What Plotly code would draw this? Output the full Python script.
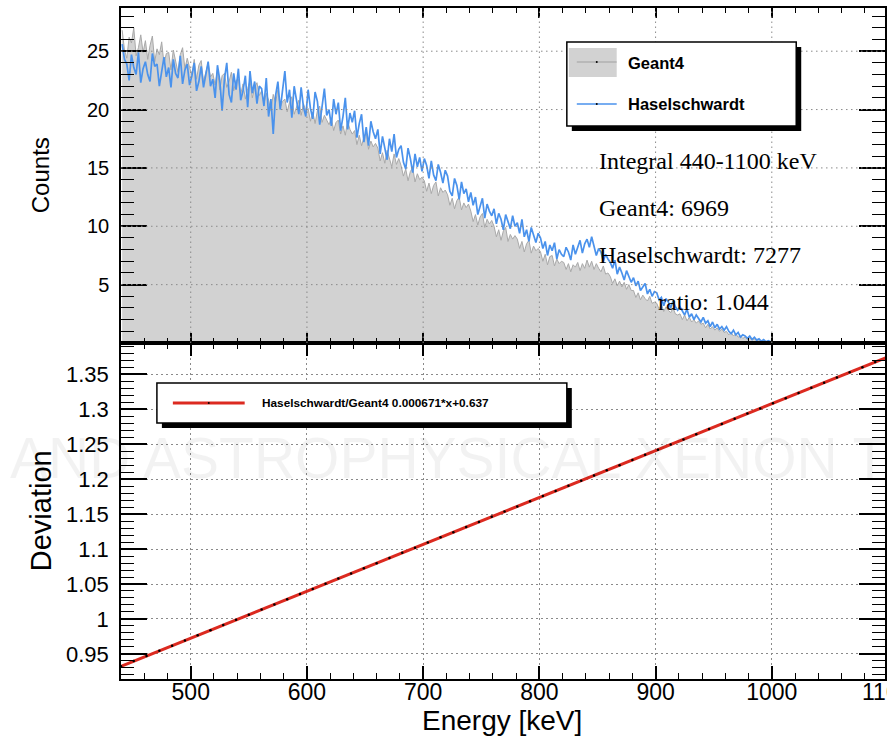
import plotly.graph_objects as go

# ---------------------------------------------------------------- data
# 2 keV bins, left edges from 440 keV up to 1098 keV
bin_width = 2
bin_edges = list(range(440, 1100, bin_width))

geant4_counts = [
    26.8, 25.1, 24.4, 26.2, 25.7, 27.0, 24.6, 25.3, 26.4, 24.9,
    25.9, 24.3, 25.5, 26.3, 24.1, 25.2, 24.7, 25.8, 23.9, 24.8,
    24.9, 23.4, 25.1, 24.0, 23.2, 24.7, 25.3, 23.5, 24.4, 23.6,
    23.0, 24.3, 22.6, 23.8, 24.2, 22.4, 23.3, 24.0, 22.8, 23.1,
    22.1, 23.4, 21.7, 22.9, 23.1, 21.9, 22.4, 23.2, 21.6, 22.5,
    22.6, 21.3, 22.2, 20.9, 21.8, 22.5, 21.0, 21.9, 22.3, 21.2,
    21.6, 20.5, 21.4, 20.8, 19.9, 21.3, 20.6, 21.7, 20.2, 20.7,
    20.9, 19.8, 20.6, 21.1, 19.6, 20.3, 20.8, 19.5, 20.5, 19.9,
    20.1, 19.0, 19.8, 18.8, 19.9, 20.3, 18.9, 19.5, 19.1, 18.7,
    19.3, 18.2, 18.9, 19.1, 17.9, 18.6, 17.8, 19.0, 18.3, 17.9,
    18.2, 17.0, 17.8, 16.9, 17.6, 18.0, 16.6, 17.3, 16.8, 17.1,
    16.7, 15.6, 16.3, 15.4, 16.5, 15.7, 15.1, 16.2, 15.3, 15.8,
    15.2, 14.3, 14.9, 13.9, 14.7, 15.0, 13.8, 14.5, 14.0, 14.2,
    13.9, 13.0, 13.7, 12.8, 13.5, 13.8, 12.6, 13.3, 12.9, 13.1,
    12.7, 11.8, 12.4, 11.5, 12.2, 12.5, 11.4, 12.0, 11.6, 11.9,
    11.3, 10.4, 11.0, 10.1, 10.8, 11.1, 9.9, 10.6, 10.2, 10.5,
    10.0, 9.1, 9.7, 8.8, 9.6, 9.9, 8.7, 9.3, 8.9, 9.2,
    8.9, 8.1, 8.7, 7.8, 8.5, 8.8, 7.7, 8.3, 7.9, 8.1,
    7.8, 7.0, 7.6, 6.7, 7.4, 7.5, 6.6, 7.2, 6.8, 7.0,
    6.9, 6.3, 6.8, 6.1, 6.7, 6.5, 6.9, 6.2, 6.8, 6.4,
    7.1, 6.5, 7.0, 6.3, 6.8, 6.4, 6.1, 6.6, 5.9, 6.0,
    5.7, 5.1, 5.5, 4.9, 5.3, 4.8, 5.2, 4.6, 5.0, 4.5,
    4.5, 3.9, 4.3, 3.7, 4.1, 3.8, 3.6, 4.0, 3.4, 3.5,
    3.4, 2.9, 3.3, 2.7, 3.1, 2.8, 2.6, 3.0, 2.5, 2.4,
    2.5, 2.0, 2.4, 1.9, 2.2, 1.8, 2.0, 1.7, 1.9, 1.6,
    1.7, 1.3, 1.6, 1.2, 1.4, 1.1, 1.3, 1.0, 1.2, 0.9,
    1.0, 0.7, 0.9, 0.6, 0.8, 0.5, 0.6, 0.4, 0.5, 0.3,
    0.45, 0.25, 0.35, 0.2, 0.3, 0.15, 0.2, 0.1, 0.1, 0.05,
    0.05, 0.0, 0.0, 0.0, 0.0, 0.0, 0.0, 0.0, 0.0, 0.0,
    0.0, 0.0, 0.0, 0.0, 0.0, 0.0, 0.0, 0.0, 0.0, 0.0,
    0.0, 0.0, 0.0, 0.0, 0.0, 0.0, 0.0, 0.0, 0.0, 0.0,
    0.0, 0.0, 0.0, 0.0, 0.0, 0.0, 0.0, 0.0, 0.0, 0.0,
    0.0, 0.0, 0.0, 0.0, 0.0, 0.0, 0.0, 0.0, 0.0, 0.0,
]

haselschwardt_counts = [
    25.6, 24.3, 23.9, 22.5, 24.7, 23.6, 23.0, 24.9, 22.3, 23.5,
    24.1, 23.0, 22.4, 24.8, 23.7, 23.9, 22.0, 23.3, 24.5, 22.8,
    23.6, 21.9, 24.3, 23.1, 22.7, 24.6, 22.2, 23.4, 23.9, 22.1,
    22.9, 24.0, 21.6, 22.4, 23.7, 21.9, 23.2, 24.1, 22.0, 22.6,
    21.0, 23.8, 22.5, 19.9, 22.6, 24.0, 21.3, 20.6, 23.1, 21.7,
    23.5, 20.8, 21.6, 22.9, 20.2, 23.3, 21.4, 22.4, 20.5, 22.0,
    21.8, 20.3, 22.7, 19.4, 20.9, 17.9, 21.2, 22.4, 20.0, 21.5,
    23.3, 20.6, 21.7, 19.3, 22.0, 20.8, 19.6, 21.9, 20.2, 19.4,
    21.7, 20.1, 19.2, 21.5, 20.7, 18.7, 20.3, 21.8, 19.5, 20.0,
    18.6, 20.9, 19.6, 20.6, 18.2, 19.4, 21.0, 18.3, 19.7, 18.9,
    19.9, 17.6, 18.8, 19.6, 17.2, 18.5, 16.9, 19.0, 18.1, 17.5,
    18.3, 16.2, 17.7, 16.8, 15.7, 17.5, 16.4, 17.9, 15.9, 16.6,
    16.9, 15.5, 14.9, 16.7, 15.8, 14.6, 16.2, 15.1, 15.9, 14.7,
    15.8, 15.2, 14.1, 15.6, 14.4, 13.9, 15.3, 14.6, 13.7, 14.8,
    14.3, 13.0, 12.6, 14.1, 13.5, 12.3, 13.8, 12.8, 13.2, 12.1,
    12.9, 11.8, 12.5, 11.0, 11.6, 12.4, 10.7, 11.9, 11.3, 10.9,
    11.5, 10.2, 11.1, 10.6, 9.7, 11.0, 10.4, 9.8, 10.9, 10.0,
    10.3, 9.4, 10.6, 9.1, 9.7, 8.7, 9.9, 9.2, 8.6, 9.4,
    9.0, 8.1, 8.7, 7.5, 8.4, 7.9, 8.6, 7.2, 8.0, 7.6,
    7.4, 8.2, 7.8, 7.1, 8.4, 7.6, 8.3, 8.8, 7.7, 8.5,
    8.9, 8.2, 9.1, 8.4, 7.5, 8.1, 7.8, 7.0, 7.6, 7.2,
    6.9, 6.4, 7.1, 5.9, 6.5, 6.0, 5.4, 6.2, 5.7, 5.2,
    5.6, 4.9, 5.3, 4.5, 4.8, 5.1, 4.2, 4.6, 4.0, 4.4,
    4.3, 3.7, 3.9, 3.2, 3.8, 3.5, 3.0, 3.6, 3.1, 2.8,
    3.1, 2.7, 2.4, 2.9, 2.2, 2.5, 2.0, 2.4, 2.1, 1.8,
    2.2, 1.7, 1.9, 1.4, 1.8, 1.3, 1.6, 1.2, 1.4, 1.1,
    1.4, 1.0, 0.8, 1.1, 0.7, 0.9, 0.5, 0.7, 0.6, 0.4,
    0.6, 0.3, 0.5, 0.25, 0.35, 0.15, 0.3, 0.1, 0.2, 0.1,
    0.1, 0.05, 0.05, 0.0, 0.0, 0.0, 0.0, 0.0, 0.0, 0.0,
    0.0, 0.0, 0.0, 0.0, 0.0, 0.0, 0.0, 0.0, 0.0, 0.0,
    0.0, 0.0, 0.0, 0.0, 0.0, 0.0, 0.0, 0.0, 0.0, 0.0,
    0.0, 0.0, 0.0, 0.0, 0.0, 0.0, 0.0, 0.0, 0.0, 0.0,
    0.0, 0.0, 0.0, 0.0, 0.0, 0.0, 0.0, 0.0, 0.0, 0.0,
]

# linear fit of the ratio Haselschwardt / Geant4
fit_slope = 0.000671
fit_intercept = 0.637
fit_energy = list(range(440, 1101, 11))
fit_ratio = [fit_slope * e + fit_intercept for e in fit_energy]

integral_lines = [
    "Integral 440-1100 keV",
    "Geant4: 6969",
    "Haselschwardt: 7277",
    "ratio: 1.044",
]

x_major = [500, 600, 700, 800, 900, 1000]
counts_major = [5, 10, 15, 20, 25]
dev_major = [0.95, 1.0, 1.05, 1.1, 1.15, 1.2, 1.25, 1.3, 1.35]
dev_labels = ["0.95", "1", "1.05", "1.1", "1.15", "1.2", "1.25", "1.3", "1.35"]

# ---------------------------------------------------------------- layout helpers
W, H = 887, 741
ML, MR, MT, MB = 121, 0, 8, 62
PW, PH = W - ML - MR, H - MT - MB
SPLIT = (H - MB - 343) / PH          # boundary between the two pads


def fx(p):
    return (p - ML) / PW


def fy(p):
    return (H - MB - p) / PH


SANS = "Liberation Sans, Arial, Helvetica, sans-serif"
SERIF = "Liberation Serif, Times New Roman, serif"
GRID = dict(color="#8a8a8a", width=1, dash="1.5px,3.5px")

# bin centres
bin_centres = [e + bin_width / 2 for e in bin_edges]

fig = go.Figure()

fig.add_trace(go.Scatter(
    x=bin_centres, y=geant4_counts, xaxis="x", yaxis="y", mode="lines",
    line=dict(color="#a9a9a9", width=1),
    fill="tozeroy", fillcolor="#d2d2d2", name="Geant4", showlegend=False,
))
fig.add_trace(go.Scatter(
    x=bin_centres, y=haselschwardt_counts, xaxis="x", yaxis="y", mode="lines",
    line=dict(color="#4a92ec", width=1.7),
    name="Haselschwardt", showlegend=False,
))
fig.add_trace(go.Scatter(
    x=fit_energy, y=fit_ratio, xaxis="x2", yaxis="y2", mode="lines+markers",
    line=dict(color="#dc2a20", width=3),
    marker=dict(color="black", size=2.5),
    name="Haselschwardt/Geant4", showlegend=False,
))

x_range = [440, 440 + PW / 1.1652]

common_axis = dict(
    showline=True, linecolor="black", linewidth=1.5, mirror="ticks",
    ticks="inside", tickcolor="black", tickwidth=1.5, zeroline=False,
)

fig.update_layout(
    width=W, height=H,
    margin=dict(l=ML, r=MR, t=MT, b=MB, pad=0),
    paper_bgcolor="white", plot_bgcolor="white",
    showlegend=False,
    xaxis=dict(
        **common_axis, domain=[0, 1], anchor="y", range=x_range,
        tickvals=x_major, ticklen=10, showticklabels=False, showgrid=False,
        minor=dict(dtick=20, tick0=0, ticks="inside", ticklen=5,
                   tickcolor="black", tickwidth=1, showgrid=False),
    ),
    yaxis=dict(
        **common_axis, domain=[SPLIT, 1], anchor="x", range=[0, 28.7],
        tickvals=counts_major, ticklen=26, showgrid=False,
        tickfont=dict(family=SANS, size=20, color="black"),
        ticklabelstandoff=6,
        minor=dict(dtick=1, tick0=0, ticks="inside", ticklen=13,
                   tickcolor="black", tickwidth=1.2, showgrid=False),
    ),
    xaxis2=dict(
        **common_axis, domain=[0, 1], anchor="y2", range=x_range,
        tickvals=x_major, ticklen=13,
        tickfont=dict(family=SANS, size=23, color="black"),
        ticklabelstandoff=-8,
        showgrid=True, gridcolor=GRID["color"], gridwidth=1, griddash=GRID["dash"],
        minor=dict(dtick=20, tick0=0, ticks="inside", ticklen=6,
                   tickcolor="black", tickwidth=1, showgrid=False),
    ),
    yaxis2=dict(
        **common_axis, domain=[0, SPLIT], anchor="x2", range=[0.914, 1.395],
        tickvals=dev_major, ticktext=dev_labels, ticklen=26,
        tickfont=dict(family=SANS, size=22, color="black"),
        ticklabelstandoff=6,
        showgrid=True, gridcolor=GRID["color"], gridwidth=1, griddash=GRID["dash"],
        minor=dict(dtick=0.01, tick0=0.9, ticks="inside", ticklen=13,
                   tickcolor="black", tickwidth=1, showgrid=False),
    ),
)

shapes = []
# dotted grid of the upper pad, drawn over the filled histogram
for xv in x_major:
    shapes.append(dict(type="line", xref="x", yref="y domain", x0=xv, x1=xv,
                       y0=0, y1=1, line=GRID, layer="above"))
for yv in counts_major:
    shapes.append(dict(type="line", xref="x domain", yref="y", x0=0, x1=1,
                       y0=yv, y1=yv, line=GRID, layer="above"))

# legend of the upper pad
shapes += [
    dict(type="rect", xref="paper", yref="paper", x0=fx(573), x1=fx(803),
         y0=fy(131), y1=fy(47), fillcolor="black", line=dict(width=0), layer="above"),
    dict(type="rect", xref="paper", yref="paper", x0=fx(568), x1=fx(798),
         y0=fy(126), y1=fy(42), fillcolor="white",
         line=dict(color="black", width=1.5), layer="above"),
    dict(type="rect", xref="paper", yref="paper", x0=fx(570), x1=fx(618),
         y0=fy(77), y1=fy(48), fillcolor="#d2d2d2", line=dict(width=0), layer="above"),
    dict(type="line", xref="paper", yref="paper", x0=fx(578), x1=fx(618),
         y0=fy(62), y1=fy(62), line=dict(color="#a0a0a0", width=1), layer="above"),
    dict(type="line", xref="paper", yref="paper", x0=fx(578), x1=fx(618),
         y0=fy(104), y1=fy(104), line=dict(color="#4a92ec", width=1.7), layer="above"),
]
# legend of the lower pad
shapes += [
    dict(type="rect", xref="paper", yref="paper", x0=fx(162), x1=fx(573),
         y0=fy(428), y1=fy(388), fillcolor="black", line=dict(width=0), layer="above"),
    dict(type="rect", xref="paper", yref="paper", x0=fx(157), x1=fx(568),
         y0=fy(423), y1=fy(383), fillcolor="white",
         line=dict(color="black", width=1.5), layer="above"),
    dict(type="line", xref="paper", yref="paper", x0=fx(173), x1=fx(245),
         y0=fy(403), y1=fy(403), line=dict(color="#dc2a20", width=3), layer="above"),
]
# marker dots in the legend swatches
for cx, cy in [(598, 62), (598, 104), (209, 403)]:
    shapes.append(dict(type="circle", xref="paper", yref="paper",
                       x0=fx(cx - 1), x1=fx(cx + 1), y0=fy(cy + 1), y1=fy(cy - 1),
                       fillcolor="black", line=dict(width=0), layer="above"))
fig.update_layout(shapes=shapes)


def label(text, px, py, size, family=SANS, xanchor="center", angle=0,
          color="black"):
    return dict(xref="paper", yref="paper", x=fx(px), y=fy(py),
                xanchor=xanchor, yanchor="middle", textangle=angle,
                showarrow=False, text=text,
                font=dict(family=family, size=size, color=color))


ann = [
    # faint background lettering
    label("AND ASTROPHYSICAL XENON TPC", 8, 458, 57, xanchor="left",
          color="rgba(0,0,0,0.05)"),
    # axis titles
    label("Counts", 40, 175, 24, angle=-90),
    label("Deviation", 41, 511, 29, angle=-90),
    label("Energy [keV]", 503, 721, 28),
    # last tick label sits on the right edge of the frame
    label("1100", 889, 692, 23),
]
# integral summary
for text, px, py in zip(integral_lines, [598, 598, 598, 657], [161, 208, 255, 302]):
    ann.append(label(text, px, py, 24, family=SERIF, xanchor="left"))
# legend labels
ann.append(label("<b>Geant4</b>", 627, 63, 16.5, xanchor="left"))
ann.append(label("<b>Haselschwardt</b>", 627, 104, 16.5, xanchor="left"))
ann.append(label("<b>Haselschwardt/Geant4 %g*x+%g</b>" % (fit_slope, fit_intercept),
                 260, 403, 11.8, xanchor="left"))
fig.update_layout(annotations=ann)

fig.write_html("out.html")
